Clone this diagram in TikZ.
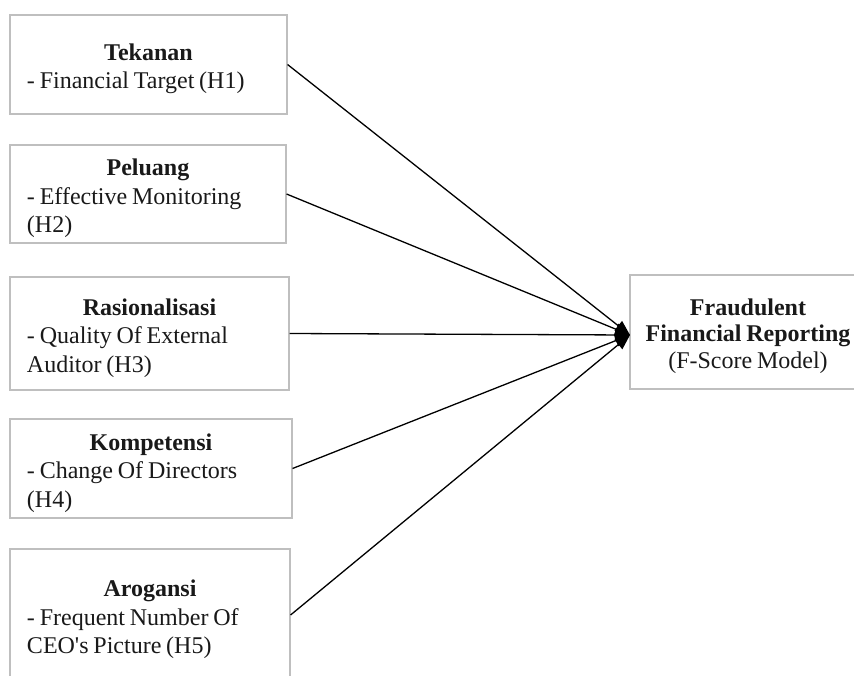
\documentclass[tikz,border=0pt]{standalone}
\usepackage{fontspec}
\setmainfont{Liberation Serif}[Ligatures=TeXOff]
\usetikzlibrary{arrows.meta}
\newcommand{\rapat}{\spaceskip=0.2em\relax}
\newcommand{\turunkiri}{\par\kern-9pt}
\newcommand{\turunkanan}{\par\kern-8pt}
\begin{document}
\begin{tikzpicture}[x=1pt, y=-1pt,
  faktor/.style={draw=black!25, line width=1.1pt, align=left, inner xsep=17pt,
    inner ysep=0pt, font=\fontsize{24}{28.5}\selectfont, text=black!90,
    execute at begin node=\rapat, execute at end node=\turunkiri},
  hasil/.style={draw=black!25, line width=1.1pt, align=center, inner sep=0pt,
    font=\fontsize{24}{26.5}\selectfont, text=black!90,
    execute at begin node=\rapat, execute at end node=\turunkanan},
  panah/.style={line width=1.3pt, -{Triangle[length=15pt, width=12pt]}}]
\useasboundingbox (0,0) rectangle (854,675);
\clip (0,0) rectangle (854,675);
\node[faktor, minimum width=277, minimum height=99, text width=243] (tekanan) at (148.5,64.5)
  {{\centering\textbf{Tekanan}\par}- Financial Target (H1)};
\node[faktor, minimum width=276, minimum height=98, text width=242] (peluang) at (148,194)
  {{\centering\textbf{Peluang}\par}- Effective Monitoring\\(H2)};
\node[faktor, minimum width=279, minimum height=113, text width=245] (rasional) at (149.5,333.5)
  {{\centering\textbf{Rasionalisasi}\par}- Quality Of External\\Auditor (H3)};
\node[faktor, minimum width=282, minimum height=99, text width=248] (kompetensi) at (151,468.5)
  {{\centering\textbf{Kompetensi}\par}- Change Of Directors\\(H4)};
\node[faktor, minimum width=280, minimum height=132, text width=246] (arogansi) at (150,615)
  {{\centering\textbf{Arogansi}\par}- Frequent Number Of\\CEO's Picture (H5)};
\node[hasil, minimum width=236, minimum height=114, text width=236] (fraud) at (748,332)
  {\textbf{Fraudulent}\\\textbf{Financial Reporting}\\(F-Score Model)};
\coordinate (tip) at (630,335);
\draw[panah] (tekanan.east) -- (tip);
\draw[panah] (peluang.east) -- (tip);
\draw[panah] (rasional.east) -- (tip);
\draw[panah] (kompetensi.east) -- (tip);
\draw[panah] (arogansi.east) -- (tip);
\end{tikzpicture}
\end{document}
